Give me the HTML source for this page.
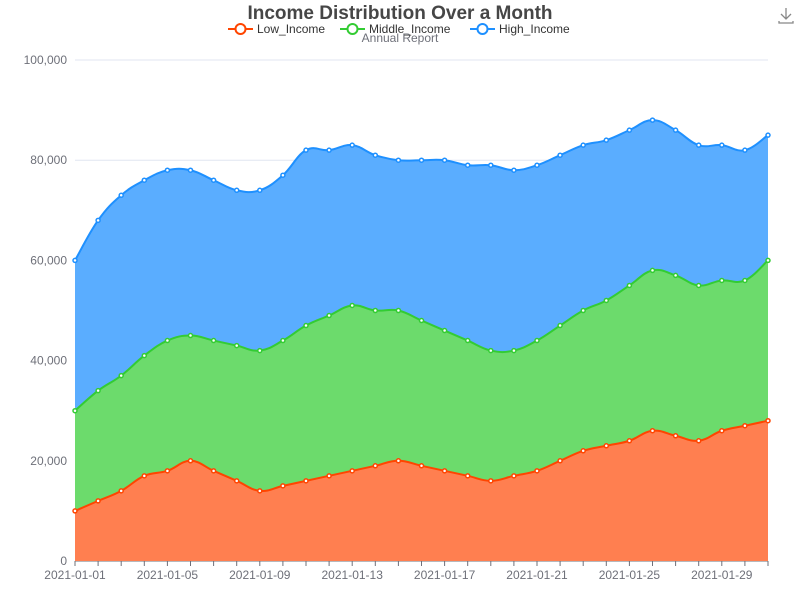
<!DOCTYPE html>
<html><head><meta charset="utf-8"><style>
body{margin:0;background:#fff;font-family:"Liberation Sans",sans-serif}
svg text{font-family:"Liberation Sans",sans-serif}
</style></head><body>
<svg id="c" width="800" height="600"></svg>
<script>
const dates=[];for(let d=1;d<=31;d++)dates.push('2021-01-'+String(d).padStart(2,'0'));
const lowIncome=[10,12,14,17,18,20,18,16,14,15,16,17,18,19,20,19,18,17,16,17,18,20,22,23,24,26,25,24,26,27,28].map(v=>v*1000);
const middleIncome=[20,22,23,24,26,25,26,27,28,29,31,32,33,31,30,29,28,27,26,25,26,27,28,29,31,32,32,31,30,29,32].map(v=>v*1000);
const highIncome=[30,34,36,35,34,33,32,31,32,33,35,33,32,31,30,32,34,35,37,36,35,34,33,32,31,30,29,28,27,26,25].map(v=>v*1000);
const yTicks=[0,20000,40000,60000,80000,100000];
const seriesNames=['Low_Income','Middle_Income','High_Income'];
const X0=75,X1=768,Y0=561,Y1=60;
const xs=i=>X0+(X1-X0)*i/(dates.length-1);
const ys=v=>Y0-(Y0-Y1)*v/100000;
const NS='http://www.w3.org/2000/svg';const svg=document.getElementById('c');
function mk(t,a,p){const e=document.createElementNS(NS,t);for(const k in a)e.setAttribute(k,a[k]);(p||svg).appendChild(e);return e;}
yTicks.forEach(t=>{
 const l=mk('line',{x1:X0,x2:X1,y1:ys(t),y2:ys(t),stroke:t===0?'#6e7079':'#e0e6f1'});
 
 
 const tx=mk('text',{x:X0-8,y:ys(t)+4,'text-anchor':'end','font-size':12,fill:'#6e7079'});tx.textContent=t.toLocaleString('en-US');
 
 
});
dates.forEach((d,i)=>{
 mk('line',{x1:xs(i),x2:xs(i),y1:Y0,y2:Y0+5,stroke:'#6e7079'});
 if(i%4===0){const tx=mk('text',{x:xs(i),y:Y0+18,'text-anchor':'middle','font-size':12,fill:'#6e7079'});tx.textContent=d;
 
 }
});
function smooth(pts){let d='';for(let i=0;i<pts.length;i++){const p=pts[i];if(i===0){d+='M'+p[0]+','+p[1];continue;}
 const p0=pts[i-2]||pts[i-1],p1=pts[i-1],p3=pts[i+1]||p;const t=0.2;
 const c1=[p1[0]+(p[0]-p0[0])*t,p1[1]+(p[1]-p0[1])*t],c2=[p[0]-(p3[0]-p1[0])*t,p[1]-(p3[1]-p1[1])*t];
 d+=`C${c1[0]},${c1[1]} ${c2[0]},${c2[1]} ${p[0]},${p[1]}`;}return d;}
const raw=[lowIncome,middleIncome,highIncome];
const fills=['#ff7f50','#6cdb6c','#5aadff'],lines=['#ff4500','#33cc33','#1e90ff'];
let base=dates.map(()=>0);const cums=[];
raw.forEach(s=>{base=base.map((b,i)=>b+s[i]);cums.push(base.slice());});
for(let k=2;k>=0;k--){
 const pts=cums[k].map((v,i)=>[xs(i),ys(v)]);
 const a=mk('path',{d:smooth(pts)+`L${X1},${Y0}L${X0},${Y0}Z`,fill:fills[k]});
 
 
}
for(let k=0;k<3;k++){
 const pts=cums[k].map((v,i)=>[xs(i),ys(v)]);
 const l=mk('path',{d:smooth(pts),fill:'none',stroke:lines[k],'stroke-width':2});
 
 
 pts.forEach(p=>{const c=mk('circle',{cx:p[0],cy:p[1],r:2,fill:'#fff',stroke:lines[k],'stroke-width':1.5});
 
 });
}
const tt=mk('text',{x:400,y:19,'text-anchor':'middle','font-size':19,'font-weight':'bold',fill:'#464646'});tt.textContent='Income Distribution Over a Month';


const st=mk('text',{x:400,y:42,'text-anchor':'middle','font-size':12,fill:'#6e7079'});st.textContent='Annual Report';


const lx=[228,340,470];
seriesNames.forEach((n,k)=>{
 const g=mk('g',{});
 
 
 mk('line',{x1:lx[k],x2:lx[k]+25,y1:29,y2:29,stroke:lines[k],'stroke-width':2},g);
 mk('circle',{cx:lx[k]+12.5,cy:29,r:5,fill:'#fff',stroke:lines[k],'stroke-width':2},g);
 const t=mk('text',{x:lx[k]+29,y:33,'font-size':12,fill:'#333'},g);t.textContent=n;
});
const dl=mk('g',{stroke:'#888','stroke-width':1.3,fill:'none'});


mk('path',{d:'M786,8V19M781,14L786,19L791,14M779,21V23H793V21'},dl);
</script>
</body></html>
